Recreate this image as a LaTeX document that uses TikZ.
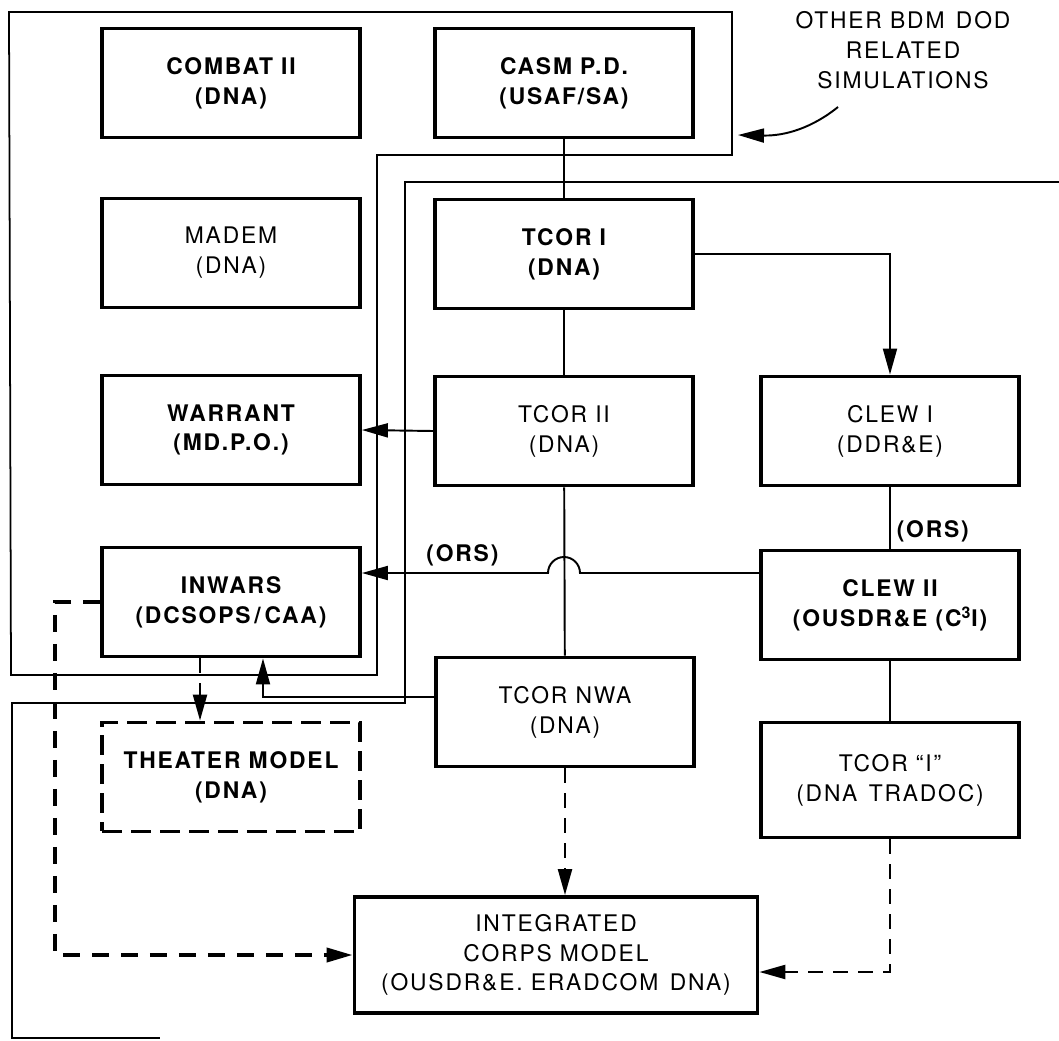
\documentclass[tikz,border=0pt]{standalone}
\usepackage{fontspec}
\setmainfont{TeX Gyre Heros}[LetterSpace=8]
\usetikzlibrary{arrows.meta}

\begin{document}
\begin{tikzpicture}[x=0.02cm, y=-0.02cm,
    every node/.style={font=\fontsize{13}{17}\selectfont, align=center},
    box/.style={draw, line width=2.2pt, minimum width=5.16cm, minimum height=2.18cm},
    bbox/.style={box, font=\fontsize{13}{17}\selectfont\bfseries},
    dbox/.style={bbox, dash pattern=on 0.4cm off 0.18cm},
    orslabel/.style={font=\fontsize{13}{17}\selectfont\bfseries},
    frame/.style={line width=1pt},
    link/.style={line width=1.1pt},
    dlink/.style={line width=1.3pt, dash pattern=on 0.3cm off 0.2cm},
    tdlink/.style={line width=2.2pt, dash pattern=on 0.34cm off 0.24cm},
    arr/.style={-{Triangle[length=0.52cm,width=0.28cm]}}]
        \useasboundingbox (0,0) rectangle (1059,1041);
        % boxes
        \node[bbox] (combat)  at (231,83)  {COMBAT II\\(DNA)};
        \node[bbox] (casm)    at (564,83)  {CASM P.D.\\(USAF/SA)};
        \node[box]  (madem)   at (231,253) {MADEM\\(DNA)};
        \node[bbox] (tcorI)   at (564,254) {TCOR I\\(DNA)};
        \node[bbox] (warrant) at (231,430) {WARRANT\\(MD.P.O.)};
        \node[box]  (tcorII)  at (564,431) {TCOR II\\(DNA)};
        \node[box]  (clewI)   at (890,431) {CLEW I\\(DDR\&E)};
        \node[bbox] (inwars)  at (231,602) {INWARS\\(DCSOPS\,/\,CAA)};
        \node[bbox] (clewII)  at (890,605) {CLEW II\\(OUSDR\&E (C\textsuperscript{3}I)};
        \node[box]  (tcornwa) at (565,712) {TCOR NWA\\(DNA)};
        \node[box, minimum height=2.3cm] (tcorIII) at (890,780) {TCOR ``I''\\(DNA\enspace TRADOC)};
        \node[dbox] (theater) at (231,777) {THEATER MODEL\\(DNA)};
        \node[box, minimum width=8.06cm, minimum height=2.32cm] (icm) at (556,955)
            {INTEGRATED\\CORPS MODEL\\(OUSDR\&E. ERADCOM\enspace DNA)};
        % other simulations
        \node (other) at (903,50) {OTHER BDM\enspace DOD\\RELATED\\SIMULATIONS};
        \coordinate (notetail) at (838,107);
        \coordinate (frametip) at (738,135);
        \draw[link, arr] (notetail) .. controls (812,128) and (785,136) .. (frametip);
        % frames
        \draw[frame] (9,12) -- (732,12) -- (732,155) -- (377,155) -- (377,675) -- (11,675) -- cycle;
        \draw[frame] (1059,182) -- (405,182) -- (405,703) -- (12,703) -- (12,1038) -- (160,1038);
        % connectors
        \coordinate (orsline) at ([yshift=0.64cm]clewII.west);
        \coordinate (hop)     at (tcorII.south |- orsline);
        \draw[link] (casm) -- (tcorI);
        \draw[link] (tcorI) -- (tcorII);
        \draw[link] (tcorII) -- (tcornwa);
        \draw[link, arr] (tcorI.east) -| (clewI.north);
        \draw[link, arr] (tcorII.west) -- (warrant.east);
        \draw[link] (clewI) -- node[orslabel, right, pos=0.72] {(ORS)} (clewII);
        \draw[link] (clewII) -- (tcorIII);
        \draw[link, arr] (orsline) -- ([xshift=0.32cm]hop)
            arc[start angle=0, end angle=180, radius=0.32cm]
            -- node[orslabel, above, pos=0.46] {(ORS)} (inwars.east |- orsline);
        \draw[link, arr] ([yshift=0.3cm]tcornwa.west) -| ([xshift=0.64cm]inwars.south);
        \draw[dlink, arr] ([xshift=-0.62cm]inwars.south) -- ([xshift=-0.62cm]theater.north);
        \draw[dlink, arr] (tcornwa.south) -- (tcornwa.south |- icm.north);
        \draw[dlink, arr] (tcorIII.south) |- ([yshift=-0.34cm]icm.east);
        \draw[tdlink, arr] (inwars.west) -- ++(-45,0) |- (icm.west);
      \end{tikzpicture}
\end{document}
